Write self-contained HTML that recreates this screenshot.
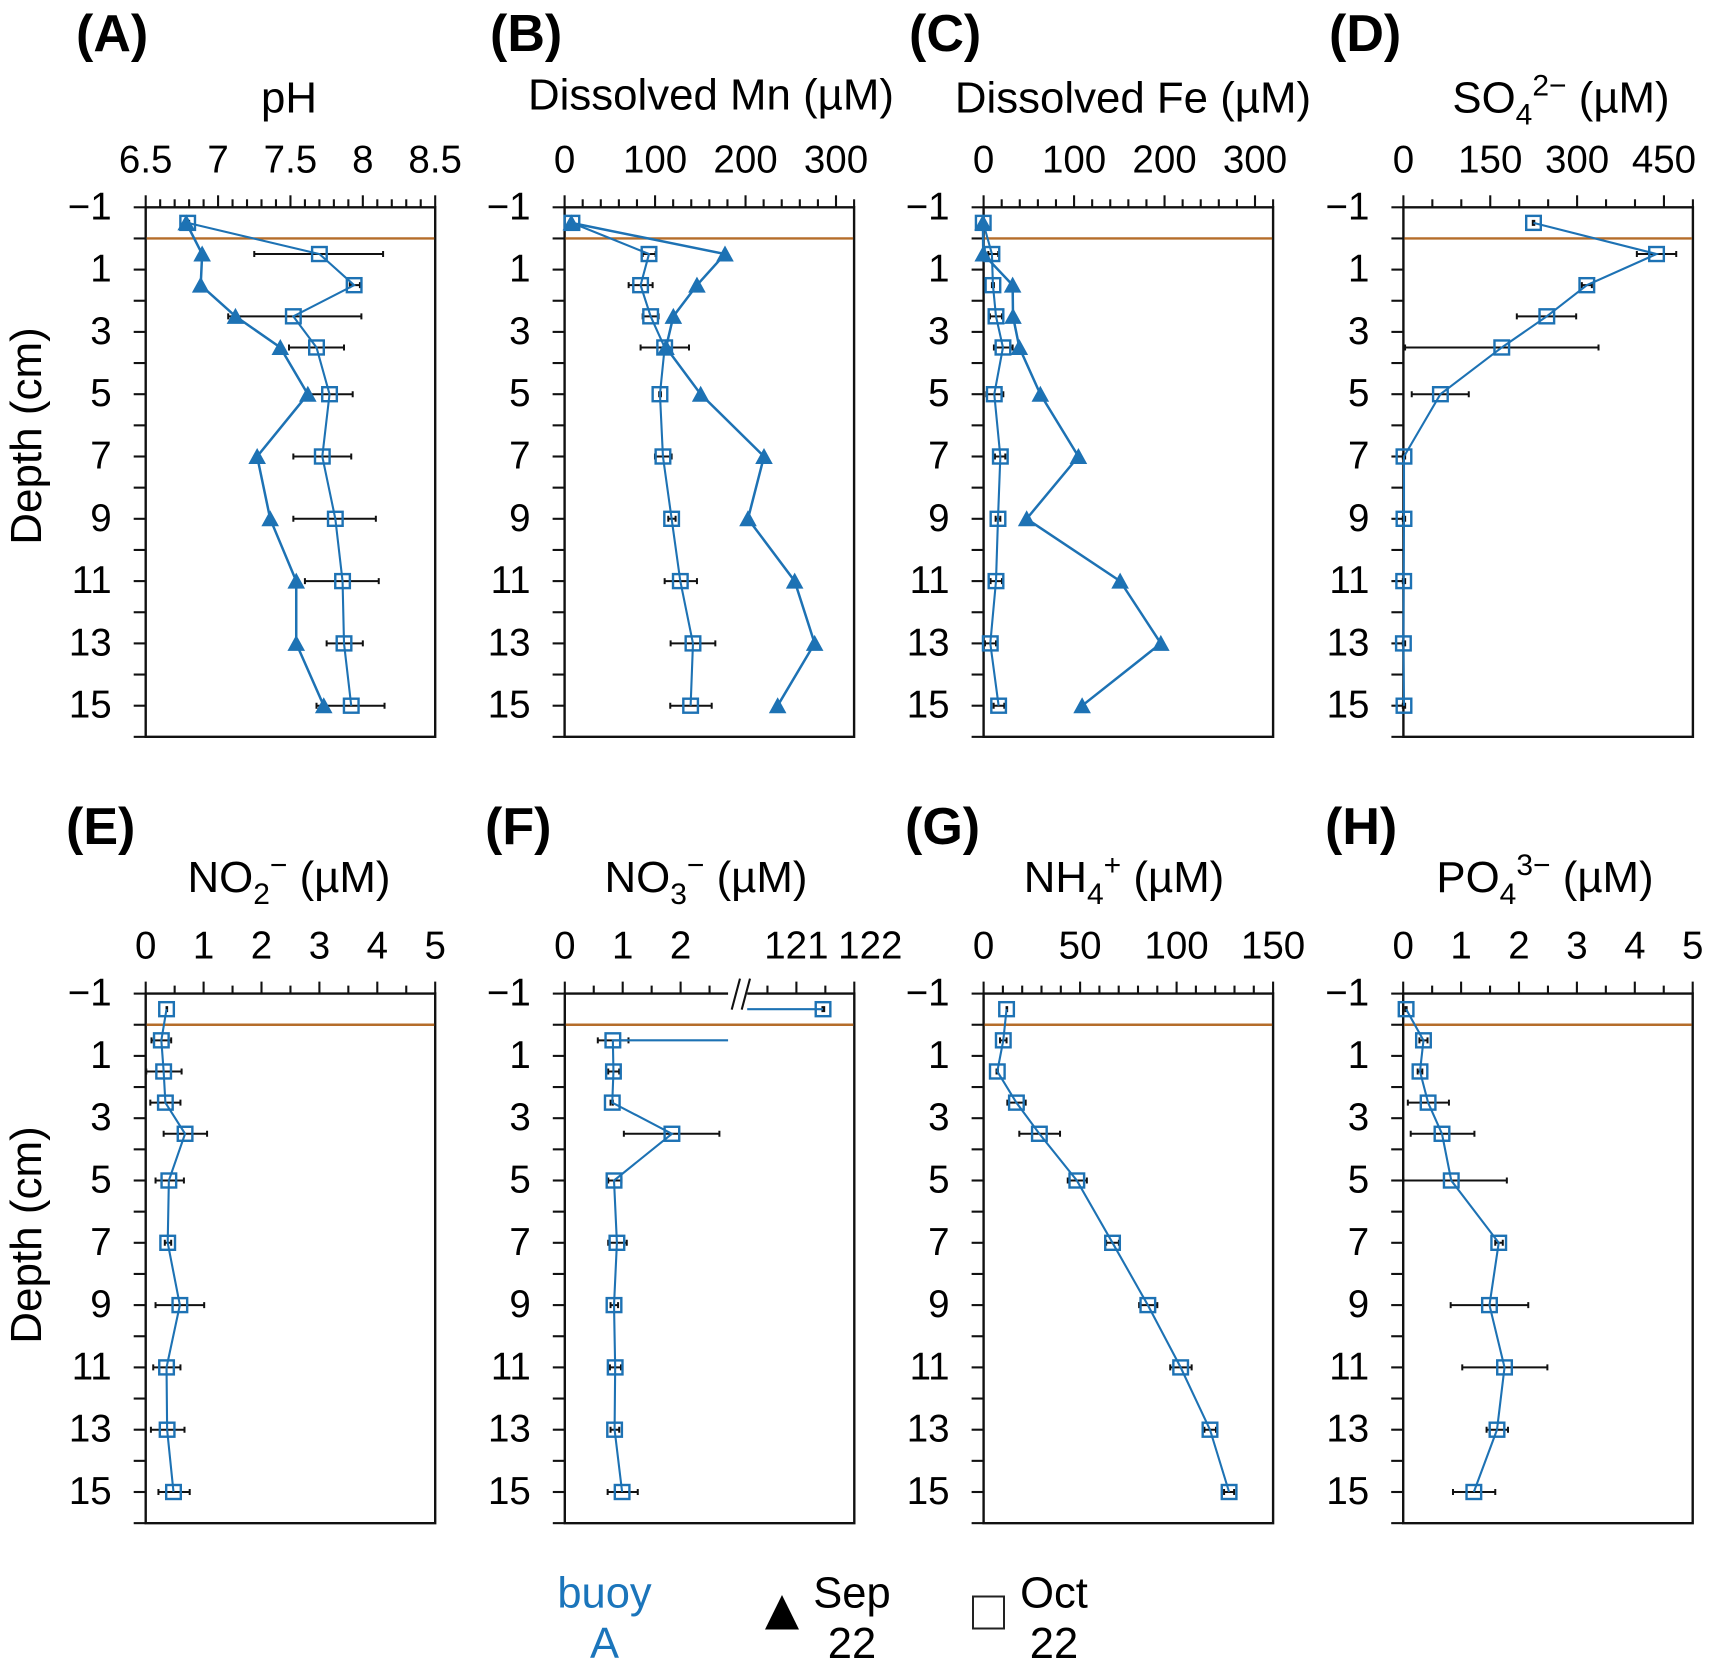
<!DOCTYPE html>
<html lang="en">
<head>
<meta charset="utf-8">
<title>Porewater depth profiles, buoy A</title>
<style>
html,body{margin:0;padding:0;background:#fff;}
svg{display:block;font-family:"Liberation Sans",Arial,sans-serif;fill:#000;}
.letter{font-size:52px;font-weight:700;}
.title{font-size:43.8px;text-anchor:middle;}
.depth{font-size:44px;text-anchor:middle;}
.legend{font-size:43.5px;text-anchor:middle;}
</style>
</head>
<body>
<svg id="fig" width="1713" height="1670" viewBox="0 0 1713 1670" xmlns="http://www.w3.org/2000/svg">
  <rect width="1713" height="1670" fill="#fff"/>

  <text class="letter" x="76" y="51">(A)</text>
  <text class="letter" x="490" y="51">(B)</text>
  <text class="letter" x="909" y="51">(C)</text>
  <text class="letter" x="1329" y="51">(D)</text>
  <text class="letter" x="66" y="844">(E)</text>
  <text class="letter" x="485" y="844">(F)</text>
  <text class="letter" x="905" y="844">(G)</text>
  <text class="letter" x="1325" y="844">(H)</text>

  <text class="title" x="289" y="112.5">pH</text>
  <text class="title" x="711" y="109.5">Dissolved Mn (µM)</text>
  <text class="title" x="1133" y="112.5">Dissolved Fe (µM)</text>
  <text class="title" x="1561" y="112.5">SO<tspan dy="12" font-size="30">4</tspan><tspan dy="-29" font-size="30">2−</tspan><tspan dy="17"> (µM)</tspan></text>
  <text class="title" x="289" y="892">NO<tspan dy="12" font-size="30">2</tspan><tspan dy="-29" font-size="30">−</tspan><tspan dy="17"> (µM)</tspan></text>
  <text class="title" x="706" y="892">NO<tspan dy="12" font-size="30">3</tspan><tspan dy="-29" font-size="30">−</tspan><tspan dy="17"> (µM)</tspan></text>
  <text class="title" x="1124" y="892">NH<tspan dy="12" font-size="30">4</tspan><tspan dy="-29" font-size="30">+</tspan><tspan dy="17"> (µM)</tspan></text>
  <text class="title" x="1545" y="892">PO<tspan dy="12" font-size="30">4</tspan><tspan dy="-29" font-size="30">3−</tspan><tspan dy="17"> (µM)</tspan></text>

  <text class="depth" transform="translate(41 436) rotate(-90)">Depth (cm)</text>
  <text class="depth" transform="translate(41 1235) rotate(-90)">Depth (cm)</text>

  <g>
    <text class="legend" x="604.5" y="1607.5" style="fill:#1b75bb">buoy</text>
    <text class="legend" x="604.5" y="1658" style="fill:#1b75bb">A</text>
    <polygon points="782,1595 799,1629.5 765,1629.5" fill="#000"/>
    <text class="legend" x="852" y="1607.5">Sep</text>
    <text class="legend" x="852" y="1658">22</text>
    <rect x="973" y="1600" width="31" height="32" transform="translate(0 -3.5)" fill="none" stroke="#222" stroke-width="2"/>
    <text class="legend" x="1054" y="1607.5">Oct</text>
    <text class="legend" x="1054" y="1658">22</text>
  </g>
</svg>

<script>
// Shared depth categories (cm)
const depths = [-0.5, 0.5, 1.5, 2.5, 3.5, 5, 7, 9, 11, 13, 15];
const depthTicks = [-1, 1, 3, 5, 7, 9, 11, 13, 15];

// (A) pH
const phLabels = ['6.5', '7', '7.5', '8', '8.5'];
const phSep = [6.78, 6.89, 6.88, 7.12, 7.43, 7.62, 7.27, 7.36, 7.54, 7.54, 7.73];
const phOct = [6.79, 7.70, 7.94, 7.52, 7.68, 7.77, 7.72, 7.81, 7.86, 7.87, 7.92];
const phLow = [6.78, 7.25, 7.91, 7.07, 7.49, 7.62, 7.52, 7.52, 7.60, 7.75, 7.68];
const phHigh = [6.80, 8.14, 7.98, 7.99, 7.87, 7.93, 7.92, 8.09, 8.11, 8.00, 8.15];

// (B) Dissolved Mn
const mnLabels = ['0', '100', '200', '300'];
const mnSep = [7.4, 177.3, 146.3, 120.2, 112.1, 150.4, 220.4, 202.7, 254.3, 276.4, 235.5];
const mnOct = [8.1, 93.3, 84.0, 95.1, 110.6, 105.4, 108.7, 118.3, 127.9, 141.9, 139.3];
const mnLow = [7.4, 86.3, 70.8, 86.3, 84.0, 104.6, 99.9, 114.6, 110.6, 117.2, 116.8];
const mnHigh = [8.8, 100.6, 97.3, 103.9, 137.5, 106.5, 118.3, 122.7, 146.3, 166.6, 162.6];

// (C) Dissolved Fe
const feLabels = ['0', '100', '200', '300'];
const feSep = [-0.7, -0.4, 32.1, 32.5, 39.5, 62.7, 104.8, 47.6, 150.9, 195.9, 108.9];
const feOct = [-0.4, 9.2, 10.3, 13.7, 21.4, 11.8, 18.5, 15.9, 13.7, 7.4, 16.6];
const feLow = [-0.4, 5.2, 9.2, 7.0, 11.4, 3.0, 12.5, 13.3, 7.7, 1.5, 11.1];
const feHigh = [-0.4, 16.2, 11.4, 20.3, 32.1, 21.8, 24.0, 18.5, 20.3, 13.7, 22.9];

// (D) Sulfate
const so4Labels = ['0', '150', '300', '450'];
const so4Oct = [224.7, 437.2, 316.8, 247.7, 169.9, 63.9, 1, 1, 0.5, 0, 1];
const so4Low = [223.5, 403.2, 308.2, 195.9, 2.9, 14.4, -1, -1, -1, -1, -1];
const so4High = [226, 471.2, 325.5, 298.4, 337, 112.9, 3, 3, 3, 3, 3];

// (E) Nitrite
const no2Labels = ['0', '1', '2', '3', '4', '5'];
const no2Oct = [0.36, 0.27, 0.31, 0.34, 0.68, 0.40, 0.38, 0.59, 0.36, 0.37, 0.48];
const no2Low = [0.36, 0.10, 0.01, 0.08, 0.31, 0.17, 0.33, 0.17, 0.13, 0.09, 0.22];
const no2High = [0.37, 0.44, 0.62, 0.60, 1.06, 0.66, 0.44, 1.01, 0.60, 0.67, 0.76];

// (F) Nitrate, broken axis
const no3Labels = ['0', '1', '2', '121', '122'];
const no3Ticks = [0, 0.5, 1, 1.5, 2, 2.5, 120.5, 121, 121.5, 122];
const no3Oct = [121.46, 0.83, 0.84, 0.82, 1.85, 0.85, 0.90, 0.85, 0.87, 0.86, 0.99];
const no3Low = [121.45, 0.57, 0.75, 0.79, 1.02, 0.75, 0.75, 0.79, 0.78, 0.79, 0.74];
const no3High = [121.48, 1.10, 0.94, 0.83, 2.67, 0.98, 1.07, 0.92, 0.97, 0.94, 1.26];
const no3BreakEnds = [3.15, 2.82];

// (G) Ammonium
const nh4Labels = ['0', '50', '100', '150'];
const nh4Oct = [11.9, 10.2, 7.1, 17.0, 28.9, 48.3, 66.8, 85.1, 102.1, 117.3, 127.2];
const nh4Low = [11.9, 8.5, 6.7, 12.3, 18.5, 43.6, 63.5, 80.6, 96.7, 114.4, 124.6];
const nh4High = [12.2, 11.9, 7.4, 21.8, 39.6, 53.5, 70.1, 90.0, 107.8, 120.4, 129.8];

// (H) Phosphate
const po4Labels = ['0', '1', '2', '3', '4', '5'];
const po4Oct = [0.05, 0.35, 0.29, 0.43, 0.67, 0.83, 1.65, 1.49, 1.75, 1.62, 1.22];
const po4Low = [0.04, 0.28, 0.25, 0.08, 0.13, 0, 1.59, 0.82, 1.02, 1.44, 0.86];
const po4High = [0.06, 0.42, 0.33, 0.79, 1.23, 1.79, 1.72, 2.16, 2.49, 1.81, 1.59];

const NS = 'http://www.w3.org/2000/svg';
const fig = document.getElementById('fig');
const BLUE = '#1d72b4';
const PLOT_W = 289.5, DEPTH_STEP = 31.15;

function make(tag, parent, attrs) {
  const n = document.createElementNS(NS, tag);
  for (const k in attrs) n.setAttribute(k, attrs[k]);
  parent.appendChild(n);
  return n;
}

function drawPanel(p) {
  const g = make('g', fig, {});
  
  

  const xScale = v => p.left + PLOT_W * ((p.broken && v > 100 ? v - 117 : v) - p.min) / (p.max - p.min);
  const yScale = d => p.top + (d + 1) * DEPTH_STEP;
  const labelled = p.labels.map(Number);
  const bottom = yScale(16);

  // plot frame
  const frame = make('path', g, {
    d: 'M' + p.left + ' ' + p.top + 'H' + (p.left + PLOT_W) + 'V' + bottom + 'H' + p.left + 'Z',
    fill: 'none', stroke: '#111', 'stroke-width': 2.4
  });
  
  

  // x ticks
  let xTicks = p.ticks;
  if (!xTicks) {
    xTicks = [];
    for (let i = 0; i <= Math.round((p.max - p.min) / p.step); i++) xTicks.push(+(p.min + i * p.step).toFixed(3));
  }
  xTicks.forEach(v => {
    const major = labelled.indexOf(v) >= 0;
    const t = make('line', g, {
      x1: xScale(v), x2: xScale(v), y1: p.top, y2: p.top - (major ? 12 : 8),
      stroke: '#111', 'stroke-width': 2.1
    });
    
    
  });
  p.labels.forEach(s => {
    const nudge = (p.broken && s === '122') ? 16 : 0;
    const t = make('text', g, {
      x: xScale(+s) + nudge, y: p.top - 35, 'text-anchor': 'middle', 'font-size': 38.5
    });
    t.textContent = s;
    
    
  });

  // y ticks
  for (let d = -1; d <= 16; d++) {
    const t = make('line', g, {
      x1: p.left - 12, x2: p.left, y1: yScale(d), y2: yScale(d), stroke: '#111', 'stroke-width': 2.1
    });
    
    
  }
  depthTicks.forEach(d => {
    const t = make('text', g, {
      x: p.left - 34, y: yScale(d) + 12, 'text-anchor': 'end', 'font-size': 38.5
    });
    t.textContent = d < 0 ? '−' + (-d) : String(d);
    
    
  });

  // sediment-water interface
  const swi = make('line', g, {
    x1: p.left + 1, x2: p.left + PLOT_W - 1, y1: yScale(0), y2: yScale(0), stroke: '#b56d2a', 'stroke-width': 2.4
  });
  
  

  // axis break
  if (p.broken) {
    const mask = make('polygon', g, {
      points: [xScale(2.82), p.top - 3, xScale(3.15), p.top - 3, xScale(3.15), p.top + 3, xScale(2.82), p.top + 3].join(' '),
      fill: '#fff'
    });
    
    
    [0, 1].forEach(i => {
      const off = i * 10;
      const s = make('line', g, {
        x1: 731.7 + off, y1: p.top + 16, x2: 740 + off, y2: p.top - 15, stroke: '#111', 'stroke-width': 2.1
      });
      
      
    });
  }

  // error bars (October)
  depths.forEach((d, i) => {
    const y = yScale(d), a = xScale(p.low[i]), b = xScale(p.high[i]);
    const e = make('path', g, {
      d: 'M' + a + ' ' + y + 'H' + b + 'M' + a + ' ' + (y - 3) + 'V' + (y + 3) + 'M' + b + ' ' + (y - 3) + 'V' + (y + 3),
      fill: 'none', stroke: '#111', 'stroke-width': 2
    });
    
    
  });

  // October line
  let octPath = '';
  depths.forEach((d, i) => {
    const breakHere = p.broken && i === 1;
    if (breakHere) {
      octPath += 'H' + xScale(no3BreakEnds[0]);
      octPath += 'M' + xScale(no3BreakEnds[1]) + ' ' + yScale(d) + 'H' + xScale(p.oct[i]);
    } else {
      octPath += (i ? 'L' : 'M') + xScale(p.oct[i]) + ' ' + yScale(d);
    }
  });
  const octLine = make('path', g, { d: octPath, fill: 'none', stroke: BLUE, 'stroke-width': 2.1 });
  
  

  depths.forEach((d, i) => {
    const s = make('rect', g, {
      x: xScale(p.oct[i]) - 7.3, y: yScale(d) - 7, width: 14.6, height: 14,
      fill: 'none', stroke: BLUE, 'stroke-width': 2.4
    });
    
    
  });

  // September line and markers
  if (p.sep) {
    const pts = depths.map((d, i) => xScale(p.sep[i]) + ',' + yScale(d)).join(' ');
    const sepLine = make('polyline', g, { points: pts, fill: 'none', stroke: BLUE, 'stroke-width': 2.5 });
    
    
    depths.forEach((d, i) => {
      const cx = xScale(p.sep[i]), cy = yScale(d);
      const m = make('polygon', g, {
        points: cx + ',' + (cy - 8.5) + ' ' + (cx + 8.8) + ',' + (cy + 7.5) + ' ' + (cx - 8.8) + ',' + (cy + 7.5),
        fill: BLUE
      });
      
      
    });
  }
}

const ROW1 = 207.3, ROW2 = 993.6;
[
  { key: 'ph', left: 145.7, top: ROW1, min: 6.5, max: 8.5, step: 0.1, labels: phLabels, sep: phSep, oct: phOct, low: phLow, high: phHigh },
  { key: 'mn', left: 564.6, top: ROW1, min: 0, max: 320, step: 20, labels: mnLabels, sep: mnSep, oct: mnOct, low: mnLow, high: mnHigh },
  { key: 'fe', left: 983.6, top: ROW1, min: 0, max: 320, step: 20, labels: feLabels, sep: feSep, oct: feOct, low: feLow, high: feHigh },
  { key: 'so4', left: 1403.4, top: ROW1, min: 0, max: 500, step: 50, labels: so4Labels, oct: so4Oct, low: so4Low, high: so4High },
  { key: 'no2', left: 145.7, top: ROW2, min: 0, max: 5, step: 0.5, labels: no2Labels, oct: no2Oct, low: no2Low, high: no2High },
  { key: 'no3', left: 564.8, top: ROW2, min: 0, max: 5, ticks: no3Ticks, broken: true, labels: no3Labels, oct: no3Oct, low: no3Low, high: no3High },
  { key: 'nh4', left: 983.6, top: ROW2, min: 0, max: 150, step: 10, labels: nh4Labels, oct: nh4Oct, low: nh4Low, high: nh4High },
  { key: 'po4', left: 1403.2, top: ROW2, min: 0, max: 5, step: 0.5, labels: po4Labels, oct: po4Oct, low: po4Low, high: po4High }
].forEach(drawPanel);
</script>
</body>
</html>
